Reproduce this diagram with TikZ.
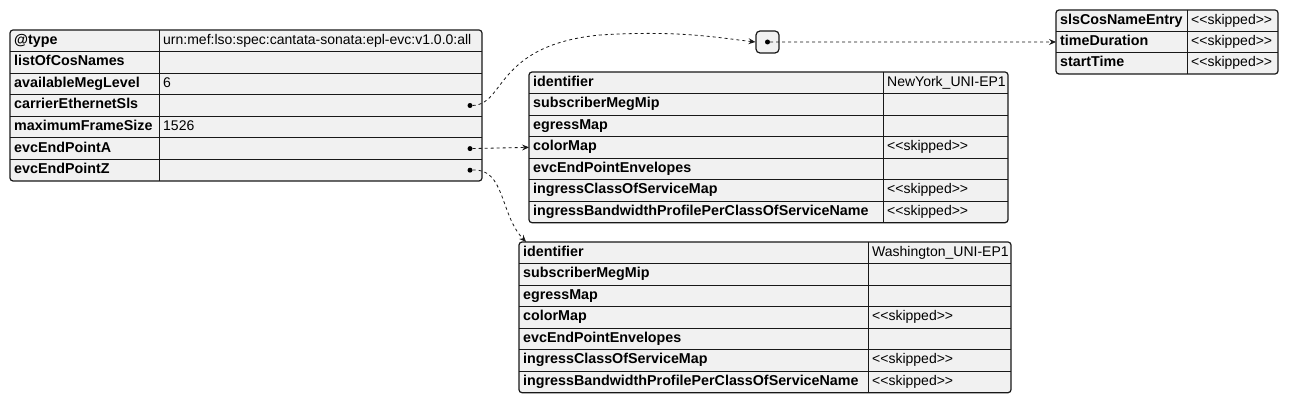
\documentclass[tikz,border=0pt]{standalone}
\usepackage{fontspec}
\setmainfont{Liberation Sans}[Ligatures=TeXOff]
\usetikzlibrary{arrows.meta}
\definecolor{cellfill}{HTML}{F1F1F1}
\definecolor{edge}{HTML}{181818}
\tikzset{
	tblframe/.style={draw=edge, line width=1.2pt, rounded corners=3pt, fill=cellfill},
	rowline/.style={draw=edge, line width=0.8pt},
	keycell/.style={anchor=west, inner xsep=4pt, inner ysep=0pt, minimum height=21.5pt, text height=10pt, text depth=3pt, font=\fontsize{14.3}{16}\selectfont\bfseries},
	valcell/.style={anchor=west, inner xsep=4pt, inner ysep=0pt, minimum height=21.5pt, text height=10pt, text depth=3pt, font=\fontsize{14}{16}\selectfont},
	refdot/.style={circle, fill=black, inner sep=0pt, minimum size=5pt},
	hubbox/.style={draw=edge, line width=1.2pt, rounded corners=4pt, fill=cellfill, minimum width=23pt, minimum height=22pt, inner sep=0pt},
	link/.style={draw=edge, line width=0.8pt, dash pattern=on 3pt off 3pt, -{Stealth[length=7pt,width=6pt,inset=2.5pt]}},
}
\begin{document}
\begin{tikzpicture}[x=1pt,y=-1pt]
			\useasboundingbox (0,0) rectangle (1289,403);
			\draw[tblframe] (10,30) rectangle (482,181);
			\foreach \r in {1,...,6} {
					\draw[rowline] (10,30+21.57*\r) -- (482,30+21.57*\r);
				}
			\draw[rowline] (159,30) -- (159,181);
			\foreach \k/\v [count=\i] in {@type/urn:mef:lso:spec:cantata-sonata:epl-evc:v1.0.0:all,listOfCosNames/,availableMegLevel/6,carrierEthernetSls/,maximumFrameSize/1526,evcEndPointA/,evcEndPointZ/} {
				\node[keycell] (evc-\i) at (10,30+21.57*\i-10.79) {\k};
				\node[valcell] at (159,30+21.57*\i-10.79) {\v};
			}
			\node[refdot] (slsdot) at (470,105.5) {};
			\node[refdot] (adot) at (470,148.6) {};
			\node[refdot] (zdot) at (470,170.2) {};

			\node[hubbox] (hub) at (767.5,42) {};
			\node[refdot] (hubdot) at (hub.center) {};

			\draw[tblframe] (1056,10) rectangle (1278,74);
			\foreach \r in {1,2} {
					\draw[rowline] (1056,10+21.33*\r) -- (1278,10+21.33*\r);
				}
			\draw[rowline] (1187,10) -- (1187,74);
			\foreach \k/\v [count=\i] in {slsCosNameEntry/<<skipped>>,timeDuration/<<skipped>>,startTime/<<skipped>>} {
				\node[keycell] (sl-\i) at (1056,10+21.33*\i-10.67) {\k};
				\node[valcell] at (1187,10+21.33*\i-10.67) {\v};
			}

			\draw[tblframe] (529,72) rectangle (1008,222.7);
			\foreach \r in {1,...,6} {
					\draw[rowline] (529,72+21.53*\r) -- (1008,72+21.53*\r);
				}
			\draw[rowline] (883,72) -- (883,222.7);
			\foreach \k/\v [count=\i] in {identifier/NewYork\_UNI-EP1,subscriberMegMip/,egressMap/,colorMap/<<skipped>>,evcEndPointEnvelopes/,ingressClassOfServiceMap/<<skipped>>,ingressBandwidthProfilePerClassOfServiceName/<<skipped>>} {
				\node[keycell] (ny-\i) at (529,72+21.53*\i-10.76) {\k};
				\node[valcell] at (883,72+21.53*\i-10.76) {\v};
			}

			\draw[tblframe] (519,242) rectangle (1011,392.7);
			\foreach \r in {1,...,6} {
					\draw[rowline] (519,242+21.53*\r) -- (1011,242+21.53*\r);
				}
			\draw[rowline] (868,242) -- (868,392.7);
			\foreach \k/\v [count=\i] in {identifier/Washington\_UNI-EP1,subscriberMegMip/,egressMap/,colorMap/<<skipped>>,evcEndPointEnvelopes/,ingressClassOfServiceMap/<<skipped>>,ingressBandwidthProfilePerClassOfServiceName/<<skipped>>} {
				\node[keycell] (wa-\i) at (519,242+21.53*\i-10.76) {\k};
				\node[valcell] at (868,242+21.53*\i-10.76) {\v};
			}

			\draw[link] (slsdot) .. controls (505,105) and (495,45) .. (600,35) .. controls (680,30) and (720,38) .. (hub.west);
			\draw[link] (adot) -- (ny-4.west);
			\draw[link] (zdot) .. controls (505,168) and (500,215) .. ([xshift=7pt]wa-1.north west);
			\draw[link] (hubdot) -- (sl-2.west);
		\end{tikzpicture}
\end{document}
